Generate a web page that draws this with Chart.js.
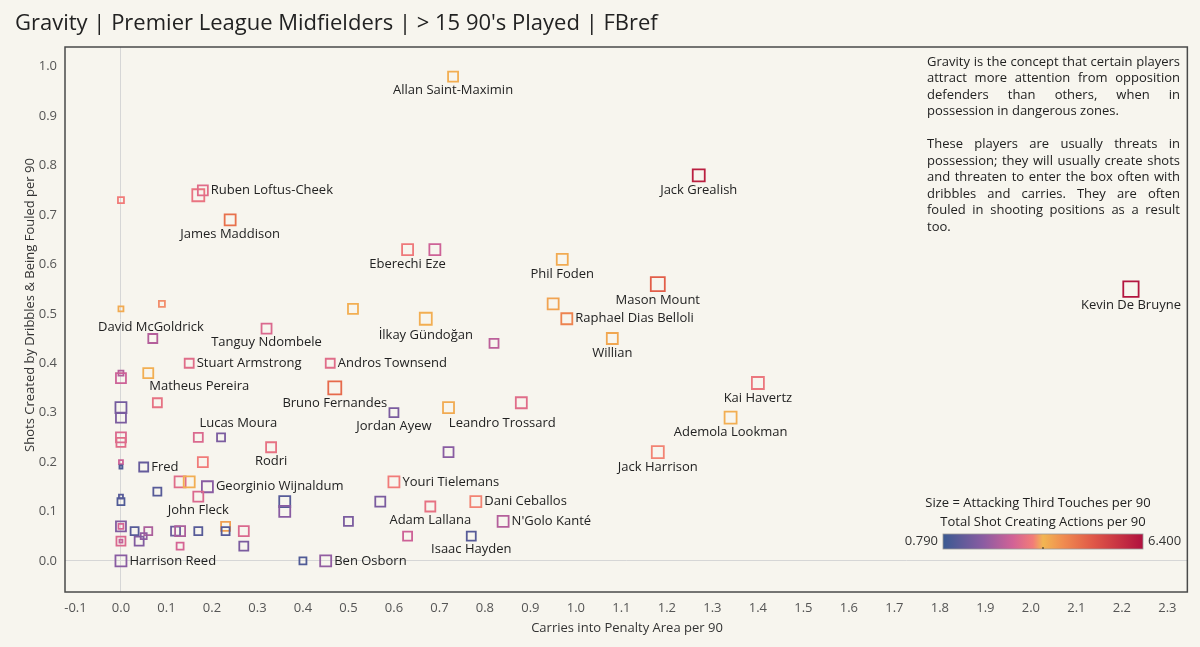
<!DOCTYPE html>
<html lang="en">
<head>
<meta charset="UTF-8">
<title>Gravity | Premier League Midfielders</title>
<script src="https://cdn.jsdelivr.net/npm/chart.js"></script>
<style>
  html, body { margin: 0; padding: 0; background: #f7f5ee; }
  #wrap { width: 1200px; height: 647px; }
</style>
</head>
<body>
<div id="wrap"><canvas id="gravity" width="1200" height="647"></canvas></div>
<script>
// ---- data ----
const players = ['Allan Saint-Maximin', 'Jack Grealish', 'Kevin De Bruyne', '', 'Ruben Loftus-Cheek',
  'James Maddison', '', 'Eberechi Eze', '', 'Phil Foden',
  'Mason Mount', '', 'Raphael Dias Belloli', 'Willian', 'İlkay Gündoğan',
  '', '', 'Tanguy Ndombele', 'David McGoldrick', '',
  '', 'Stuart Armstrong', 'Andros Townsend', 'Matheus Pereira', '',
  '', 'Bruno Fernandes', '', 'Jordan Ayew', '',
  'Leandro Trossard', 'Kai Havertz', 'Ademola Lookman', 'Jack Harrison', 'Lucas Moura',
  '', 'Rodri', '', '', '',
  '', '', '', '', 'Fred',
  '', '', '', 'Georginio Wijnaldum', 'John Fleck',
  '', '', '', '', '',
  'Youri Tielemans', 'Adam Lallana', 'Dani Ceballos', '', "N'Golo Kanté",
  '', 'Isaac Hayden', '', 'Ben Osborn', 'Harrison Reed',
  '', '', '', '', '',
  '', '', '', '', '',
  '', '', '', '', '',
  '', ''];
const carries = [0.73, 1.27, 2.22, 0.17, 0.18,
  0.24, 0.00, 0.63, 0.69, 0.97,
  1.18, 0.95, 0.98, 1.08, 0.67,
  0.51, 0.82, 0.32, 0.09, 0.00,
  0.07, 0.15, 0.46, 0.06, 0.00,
  0.00, 0.47, 0.08, 0.60, 0.72,
  0.88, 1.40, 1.34, 1.18, 0.17,
  0.22, 0.33, 0.72, 0.00, 0.00,
  0.00, 0.00, 0.00, 0.00, 0.05,
  0.18, 0.13, 0.15, 0.19, 0.17,
  0.08, 0.00, 0.36, 0.36, 0.57,
  0.60, 0.68, 0.78, 0.50, 0.84,
  0.63, 0.77, 0.40, 0.45, 0.00,
  0.00, 0.00, 0.00, 0.00, 0.03,
  0.06, 0.05, 0.04, 0.12, 0.13,
  0.17, 0.13, 0.23, 0.23, 0.27,
  0.27, 0.00];
const dribbleShots = [0.98, 0.78, 0.55, 0.74, 0.75,
  0.69, 0.73, 0.63, 0.63, 0.61,
  0.56, 0.52, 0.49, 0.45, 0.49,
  0.51, 0.44, 0.47, 0.52, 0.51,
  0.45, 0.40, 0.40, 0.38, 0.38,
  0.37, 0.35, 0.32, 0.30, 0.31,
  0.32, 0.36, 0.29, 0.22, 0.25,
  0.25, 0.23, 0.22, 0.31, 0.29,
  0.25, 0.24, 0.20, 0.19, 0.19,
  0.20, 0.16, 0.16, 0.15, 0.13,
  0.14, 0.12, 0.12, 0.10, 0.12,
  0.16, 0.11, 0.12, 0.08, 0.08,
  0.05, 0.05, 0.00, 0.00, 0.00,
  0.07, 0.07, 0.04, 0.04, 0.06,
  0.06, 0.05, 0.04, 0.06, 0.06,
  0.06, 0.03, 0.07, 0.06, 0.06,
  0.03, 0.13];
// attacking third touches per 90 (marker size)
const attTouches = [30, 36, 46, 36, 30,
  33, 18, 33, 33, 33,
  42, 33, 33, 33, 36,
  30, 27, 30, 18, 15,
  27, 27, 27, 30, 15,
  30, 39, 27, 27, 33,
  33, 36, 36, 36, 27,
  24, 30, 30, 33, 30,
  30, 27, 12, 9, 27,
  30, 33, 33, 33, 30,
  24, 21, 33, 33, 30,
  33, 30, 33, 27, 33,
  27, 27, 21, 33, 33,
  30, 15, 27, 9, 24,
  24, 18, 27, 27, 30,
  24, 21, 27, 24, 30,
  27, 12];
// total shot creating actions per 90 (marker colour)
const sca90 = [3.70, 6.10, 6.30, 3.15, 3.00,
  4.60, 3.30, 3.25, 2.70, 3.75,
  4.90, 3.85, 4.30, 3.80, 3.70,
  3.70, 2.50, 2.90, 3.40, 3.75,
  2.40, 3.00, 3.00, 3.70, 2.40,
  2.70, 4.70, 3.10, 1.70, 3.75,
  3.00, 3.20, 3.70, 3.35, 2.90,
  1.70, 3.10, 1.90, 1.60, 1.70,
  2.90, 3.00, 2.70, 1.10, 1.40,
  3.30, 3.00, 3.70, 1.90, 2.90,
  1.20, 1.10, 1.20, 1.90, 1.70,
  3.30, 3.10, 3.35, 1.70, 2.40,
  2.70, 1.20, 1.10, 2.00, 1.90,
  1.80, 2.80, 2.90, 2.60, 1.20,
  2.30, 2.00, 1.80, 1.50, 2.30,
  1.20, 2.80, 3.90, 1.20, 2.90,
  1.70, 1.20];
const xTicks = [-0.1, 0.0, 0.1, 0.2, 0.3, 0.4, 0.5, 0.6, 0.7, 0.8, 0.9, 1.0, 1.1, 1.2,
  1.3, 1.4, 1.5, 1.6, 1.7, 1.8, 1.9, 2.0, 2.1, 2.2, 2.3];
const yTicks = [0.0, 0.1, 0.2, 0.3, 0.4, 0.5, 0.6, 0.7, 0.8, 0.9, 1.0];
const scaMin = 0.790, scaMax = 6.400;

const noteLines = [
  ['Gravity is the concept that certain players', 'attract more attention from opposition',
   'defenders than others, when in', 'possession in dangerous zones.'],
  ['These players are usually threats in', 'possession; they will usually create shots',
   'and threaten to enter the box often with', 'dribbles and carries. They are often',
   'fouled in shooting positions as a result', 'too.']
];

// ---- styling ----
const FONT = "'Open Sans', 'DejaVu Sans', sans-serif";
const stops = [
  [0.00, [58, 90, 146]], [0.20, [138, 92, 162]], [0.35, [210, 98, 150]],
  [0.45, [242, 124, 120]], [0.50, [242, 182, 82]], [0.60, [240, 140, 80]],
  [0.75, [224, 88, 72]], [1.00, [176, 16, 62]]
];
function cmap(t) {
  t = Math.max(0, Math.min(1, t));
  for (let i = 1; i < stops.length; i++) {
    if (t <= stops[i][0]) {
      const [t0, c0] = stops[i - 1], [t1, c1] = stops[i];
      const f = (t - t0) / (t1 - t0);
      const c = c0.map((v, k) => Math.round(v + (c1[k] - v) * f));
      return `rgb(${c[0]},${c[1]},${c[2]})`;
    }
  }
  return 'rgb(176,16,62)';
}
const colourOf = v => cmap((v - scaMin) / (scaMax - scaMin));
const sideOf = t => t / 3;                 // square side in px
const radiusOf = t => sideOf(t) / Math.SQRT2; // chart.js rect radius

// label placement (default: below the marker)
const rightLabels = ['Ruben Loftus-Cheek', 'Raphael Dias Belloli', 'Stuart Armstrong', 'Andros Townsend',
  'Fred', 'Georginio Wijnaldum', 'Youri Tielemans', 'Dani Ceballos', "N'Golo Kanté", 'Ben Osborn', 'Harrison Reed'];
const labelNudge = {
  'David McGoldrick': { dx: -11, dy: 23 },
  'Matheus Pereira': { dx: 51, dy: 13 },
  'Leandro Trossard': { dx: -19, dy: 21 },
  'Lucas Moura': { dx: 40, dy: -14 },
  'İlkay Gündoğan': { dx: 0, dy: 17 }
};

const points = carries.map((x, i) => ({ x: x, y: dribbleShots[i] }));

const extras = {
  id: 'extras',
  afterDatasetsDraw(chart) {
    const ctx = chart.ctx;
    const meta = chart.getDatasetMeta(0);
    ctx.save();
    ctx.fillStyle = '#222';
    ctx.font = `13px ${FONT}`;
    ctx.textBaseline = 'middle';
    meta.data.forEach((el, i) => {
      const name = players[i];
      if (!name) return;
      const half = sideOf(attTouches[i]) / 2;
      if (rightLabels.includes(name)) {
        ctx.textAlign = 'left';
        ctx.fillText(name, el.x + half + 3, el.y);
      } else if (labelNudge[name]) {
        ctx.textAlign = 'center';
        ctx.fillText(name, el.x + labelNudge[name].dx, el.y + labelNudge[name].dy);
      } else {
        ctx.textAlign = 'center';
        ctx.fillText(name, el.x, el.y + half + 9);
      }
    });
    ctx.restore();
  },
  afterDraw(chart) {
    const ctx = chart.ctx;
    const a = chart.chartArea;
    ctx.save();
    // frame
    ctx.strokeStyle = '#4a4a4a';
    ctx.lineWidth = 1.5;
    ctx.strokeRect(a.left, a.top, a.right - a.left, a.bottom - a.top);

    // title
    ctx.fillStyle = '#222';
    ctx.font = `22px ${FONT}`;
    ctx.textAlign = 'left';
    ctx.textBaseline = 'middle';
    ctx.fillText("Gravity | Premier League Midfielders | > 15 90's Played | FBref", 15, 24);

    // axis titles
    ctx.fillStyle = '#333';
    ctx.font = `13px ${FONT}`;
    ctx.textAlign = 'center';
    ctx.fillText('Carries into Penalty Area per 90', 627, 628);
    ctx.save();
    ctx.translate(30, 305);
    ctx.rotate(-Math.PI / 2);
    ctx.fillText('Shots Created by Dribbles & Being Fouled per 90', 0, 0);
    ctx.restore();

    // justified note
    ctx.fillStyle = '#222';
    ctx.font = `13px ${FONT}`;
    ctx.textAlign = 'left';
    const left = 927, right = 1180;
    let y = 62;
    noteLines.forEach(par => {
      par.forEach((line, li) => {
        const words = line.split(' ');
        if (li === par.length - 1 || words.length < 2) {
          ctx.fillText(line, left, y);
        } else {
          const wsum = words.reduce((s, w) => s + ctx.measureText(w).width, 0);
          const gap = (right - left - wsum) / (words.length - 1);
          let x = left;
          words.forEach(w => { ctx.fillText(w, x, y); x += ctx.measureText(w).width + gap; });
        }
        y += 16.5;
      });
      y += 16.5;
    });

    // size / colour legend
    ctx.textAlign = 'center';
    ctx.fillText('Size = Attacking Third Touches per 90', 1038, 503);
    ctx.fillText('Total Shot Creating Actions per 90', 1043, 522);
    const bx = 943, by = 534, bw = 200, bh = 15;
    const grad = ctx.createLinearGradient(bx, 0, bx + bw, 0);
    stops.forEach(s => grad.addColorStop(s[0], `rgb(${s[1].join(',')})`));
    ctx.fillStyle = grad;
    ctx.fillRect(bx, by, bw, bh);
    ctx.strokeStyle = '#999';
    ctx.lineWidth = 0.8;
    ctx.strokeRect(bx, by, bw, bh);
    ctx.strokeStyle = '#222';
    ctx.lineWidth = 1;
    ctx.beginPath();
    ctx.moveTo(bx + bw / 2, by + bh - 2);
    ctx.lineTo(bx + bw / 2, by + bh);
    ctx.stroke();
    ctx.fillStyle = '#333';
    ctx.textAlign = 'right';
    ctx.fillText(scaMin.toFixed(3), bx - 5, by + bh / 2);
    ctx.textAlign = 'left';
    ctx.fillText(scaMax.toFixed(3), bx + bw + 5, by + bh / 2);
    ctx.restore();
  }
};

Chart.defaults.font.family = FONT;
new Chart(document.getElementById('gravity').getContext('2d'), {
  type: 'scatter',
  data: {
    datasets: [{
      data: points,
      pointStyle: 'rect',
      pointRadius: attTouches.map(radiusOf),
      pointHoverRadius: attTouches.map(radiusOf),
      pointBorderColor: sca90.map(colourOf),
      pointBackgroundColor: 'rgba(0,0,0,0)',
      pointBorderWidth: 1.8
    }]
  },
  options: {
    responsive: false,
    animation: false,
    layout: { padding: { left: 0, top: 47, right: 10, bottom: 0 } },
    plugins: { legend: { display: false }, tooltip: { enabled: false } },
    scales: {
      x: {
        type: 'linear',
        min: -0.123, max: 2.344,
        afterFit: s => { s.height = 55; },
        afterBuildTicks: s => { s.ticks = xTicks.map(v => ({ value: v })); },
        grid: {
          drawTicks: false,
          color: c => (c.tick && Math.abs(c.tick.value) < 1e-9) ? '#d6d6d6' : 'rgba(0,0,0,0)'
        },
        border: { display: false },
        ticks: { padding: 8, color: '#555', font: { size: 13 }, maxRotation: 0, autoSkip: false,
          callback: v => v.toFixed(1) }
      },
      y: {
        type: 'linear',
        min: -0.063, max: 1.04,
        afterFit: s => { s.width = 65; },
        afterBuildTicks: s => { s.ticks = yTicks.map(v => ({ value: v })); },
        grid: {
          drawTicks: false,
          color: c => (c.tick && Math.abs(c.tick.value) < 1e-9) ? '#d6d6d6' : 'rgba(0,0,0,0)'
        },
        border: { display: false },
        ticks: { padding: 8, color: '#555', font: { size: 13 }, autoSkip: false,
          callback: v => v.toFixed(1) }
      }
    }
  },
  plugins: [extras]
});
</script>
</body>
</html>
